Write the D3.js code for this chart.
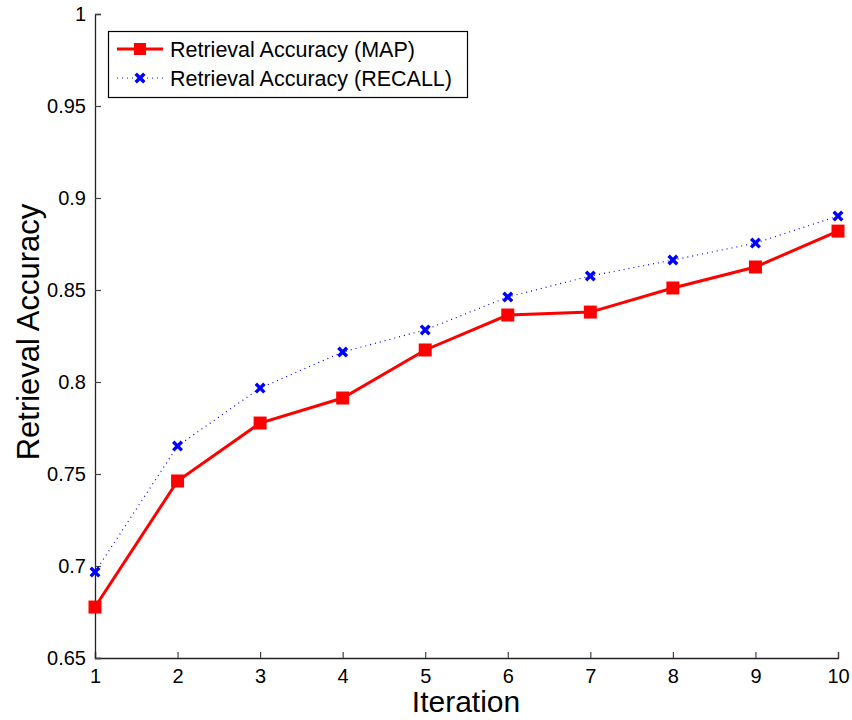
<!DOCTYPE html>
<html>
<head>
<meta charset="utf-8">
<script src="https://cdn.jsdelivr.net/npm/d3@7"></script>
<style>
  body { margin: 0; background: #fff; }
  text { font-family: "Liberation Sans", Arial, sans-serif; }
</style>
</head>
<body>
<svg id="chart" width="852" height="720"></svg>
<script>
// data
var iterations = [1, 2, 3, 4, 5, 6, 7, 8, 9, 10];
var mapValues = [0.6777, 0.7462, 0.7777, 0.7913, 0.8174, 0.8364, 0.838, 0.8511, 0.8625, 0.882];
var recallValues = [0.6967, 0.7652, 0.7967, 0.8163, 0.8283, 0.8462, 0.8576, 0.8663, 0.8755, 0.8902];
var yTicks = [0.65, 0.7, 0.75, 0.8, 0.85, 0.9, 0.95, 1];
var seriesNames = ['Retrieval Accuracy (MAP)', 'Retrieval Accuracy (RECALL)'];

var svg = d3.select('#chart');
var x = d3.scaleLinear().domain([1, 10]).range([95, 838]);
var y = d3.scaleLinear().domain([0.65, 1]).range([658, 14]);

// axes (matlab style: ticks inside)
var xAxis = d3.axisBottom(x).tickValues(iterations).tickSize(-6).tickPadding(14).tickFormat(d3.format('d'));
var yAxis = d3.axisLeft(y).tickValues(yTicks).tickSize(-6).tickPadding(9).tickFormat(function(d) { return d3.format('')(+d.toFixed(2)); });

var gx = svg.append('g').attr('transform', 'translate(0,658)').call(xAxis);
var gy = svg.append('g').attr('transform', 'translate(95,0)').call(yAxis);
[gx, gy].forEach(function(g) {
    g.select('.domain').attr('stroke', '#222').attr('stroke-width', 1.3);
    g.selectAll('.tick line').attr('stroke', '#444').attr('stroke-width', 1.2);
    g.selectAll('.tick text').attr('font-size', 20).attr('fill', '#000')
        .attr('font-family', '"Liberation Sans", Arial, sans-serif');
});
gx.selectAll('.tick text').attr('dy', '0.55em');

// axis titles
svg.append('text').attr('x', 466).attr('y', 712).attr('text-anchor', 'middle')
    .attr('font-size', 30).text('Iteration');
svg.append('text').attr('transform', 'translate(39,332) rotate(-90)').attr('text-anchor', 'middle')
    .attr('font-size', 31).text('Retrieval Accuracy');

var line = d3.line().x(function(d, i) { return x(iterations[i]); }).y(function(d) { return y(d); });

// recall series (blue dotted)
svg.append('path').datum(recallValues).attr('d', line).attr('fill', 'none')
    .attr('stroke', '#0000ff').attr('stroke-width', 1.2).attr('stroke-dasharray', '1,4');
// MAP series (red solid)
svg.append('path').datum(mapValues).attr('d', line).attr('fill', 'none')
    .attr('stroke', '#ff0000').attr('stroke-width', 3);

var cross = d3.symbol().type(d3.symbolX).size(50);
svg.selectAll('.rmark').data(recallValues).enter().append('path')
    .attr('transform', function(d, i) { return 'translate(' + x(iterations[i]) + ',' + y(d) + ')'; })
    .attr('d', cross).attr('stroke', '#0000ff').attr('stroke-width', 3.4).attr('fill', 'none');
svg.selectAll('.mmark').data(mapValues).enter().append('rect')
    .attr('x', function(d, i) { return x(iterations[i]) - 6.5; })
    .attr('y', function(d) { return y(d) - 6.5; })
    .attr('width', 13).attr('height', 13).attr('fill', '#ff0000');

// legend
var lg = svg.append('g');
lg.append('rect').attr('x', 108.5).attr('y', 31.5).attr('width', 359).attr('height', 66)
    .attr('fill', '#fff').attr('stroke', '#000').attr('stroke-width', 1.2);
lg.append('line').attr('x1', 117).attr('x2', 163).attr('y1', 49).attr('y2', 49)
    .attr('stroke', '#ff0000').attr('stroke-width', 3);
lg.append('rect').attr('x', 134).attr('y', 43).attr('width', 12).attr('height', 12).attr('fill', '#ff0000');
lg.append('line').attr('x1', 117).attr('x2', 163).attr('y1', 78).attr('y2', 78)
    .attr('stroke', '#0000ff').attr('stroke-width', 1.2).attr('stroke-dasharray', '1,4');
lg.append('path').attr('transform', 'translate(140,78)').attr('d', cross)
    .attr('stroke', '#0000ff').attr('stroke-width', 3.4).attr('fill', 'none');
lg.selectAll('.lt').data(seriesNames).enter().append('text')
    .attr('x', 170).attr('y', function(d, i) { return 57 + i * 29; })
    .attr('font-size', 21.5).text(function(d) { return d; });
</script>
</body>
</html>
